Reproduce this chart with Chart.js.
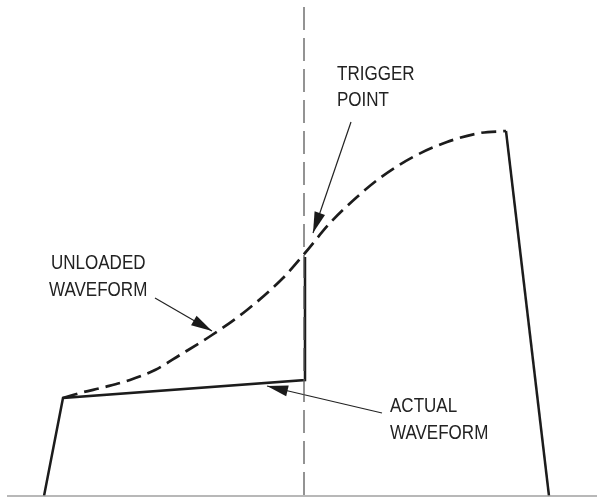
<!DOCTYPE html>
<html>
<head>
<meta charset="utf-8">
<script src="https://cdn.jsdelivr.net/npm/chart.js@4.4.1/dist/chart.umd.min.js"></script>
<style>
  html, body { margin: 0; padding: 0; background: #fff; }
  #wrap { width: 597px; height: 497px; position: relative; }
</style>
</head>
<body>
<div id="wrap"><canvas id="wave"></canvas></div>
<script>
// x = time (px-ish units), y = amplitude above the baseline
const unloadedX = [63, 80, 105, 130, 155, 180, 212, 247, 283, 305, 330, 357, 380, 413, 447, 480, 506];
const unloadedY = [98, 103, 109, 116, 126, 141, 161, 186, 218, 243, 273, 299, 318, 339, 354, 363, 365];

const actualX = [44, 63, 305, 305];
const actualY = [0, 98, 116, 239];

const fallX = [506, 549];
const fallY = [365, 0];

const triggerX = [304, 304];
const triggerY = [489, 0];

const baseX = [7, 597];
const baseY = [0, 0];

// arrows: [tailX, tailY, tipX, tipY]
const arrowTrigger = [351, 374, 313, 263];
const arrowUnloaded = [155, 198, 212, 165];
const arrowActual = [382, 83, 267, 110];

const labelText = ['TRIGGER', 'POINT', 'UNLOADED', 'WAVEFORM', 'ACTUAL', 'WAVEFORM'];
const labelX = [337, 337, 51, 49, 390, 390];
const labelY = [416, 390, 227, 200, 84, 57];

function pts(xs, ys) {
    return xs.map((x, i) => ({ x: x, y: ys[i] }));
}

const ink = '#1c1c1c';

function lineSet(data, opts) {
    return Object.assign({
        data: data,
        showLine: true,
        borderColor: ink,
        borderWidth: 2.5,
        pointRadius: 0,
        fill: false
    }, opts);
}

const arrows = [arrowTrigger, arrowUnloaded, arrowActual];

const datasets = [
    lineSet(pts(baseX, baseY), { borderColor: '#a0a0a0', borderWidth: 1.5 }),
    lineSet(pts(triggerX, triggerY), { borderColor: '#5a5a5a', borderWidth: 1.3, borderDash: [23, 8] }),
    lineSet(pts(unloadedX, unloadedY), { borderWidth: 2.7, borderDash: [15, 7], tension: 0.4, cubicInterpolationMode: 'monotone' }),
    lineSet(pts(actualX, actualY), { borderJoinStyle: 'miter' }),
    lineSet(pts(fallX, fallY), {})
];
arrows.forEach(a => {
    datasets.push(lineSet(pts([a[0], a[2]], [a[1], a[3]]), { borderWidth: 1.2, borderColor: '#222' }));
});

// arrowheads + labels, positioned through the scales
const annotate = {
    id: 'annotate',
    afterDatasetsDraw(chart) {
        const ctx = chart.ctx;
        const sx = chart.scales.x, sy = chart.scales.y;
        ctx.save();
        ctx.fillStyle = '#1a1a1a';
        arrows.forEach(a => {
            const x0 = sx.getPixelForValue(a[0]), y0 = sy.getPixelForValue(a[1]);
            const x1 = sx.getPixelForValue(a[2]), y1 = sy.getPixelForValue(a[3]);
            const ang = Math.atan2(y1 - y0, x1 - x0);
            const len = 21, half = 5.5;
            const bx = x1 - Math.cos(ang) * len, by = y1 - Math.sin(ang) * len;
            ctx.beginPath();
            ctx.moveTo(x1, y1);
            ctx.lineTo(bx - Math.sin(ang) * half, by + Math.cos(ang) * half);
            ctx.lineTo(bx + Math.sin(ang) * half, by - Math.cos(ang) * half);
            ctx.closePath();
            ctx.fill();
        });
        // condensed look: squeeze Liberation Sans horizontally
        ctx.fillStyle = '#222';
        ctx.font = '20.5px "Liberation Sans", Arial, sans-serif';
        ctx.textAlign = 'left';
        ctx.textBaseline = 'alphabetic';
        labelText.forEach((t, i) => {
            ctx.save();
            ctx.translate(sx.getPixelForValue(labelX[i]), sy.getPixelForValue(labelY[i]));
            ctx.scale(0.83, 1);
            ctx.fillText(t, 0, 0);
            ctx.restore();
        });
        ctx.restore();
    }
};

new Chart(document.getElementById('wave'), {
    type: 'scatter',
    data: { datasets: datasets },
    options: {
        responsive: true,
        maintainAspectRatio: false,
        animation: false,
        layout: { padding: 0 },
        scales: {
            x: { type: 'linear', min: 0, max: 597, display: false },
            y: { type: 'linear', min: -1, max: 496, display: false }
        },
        plugins: {
            legend: { display: false },
            tooltip: { enabled: false }
        }
    },
    plugins: [annotate]
});
</script>
</body>
</html>
